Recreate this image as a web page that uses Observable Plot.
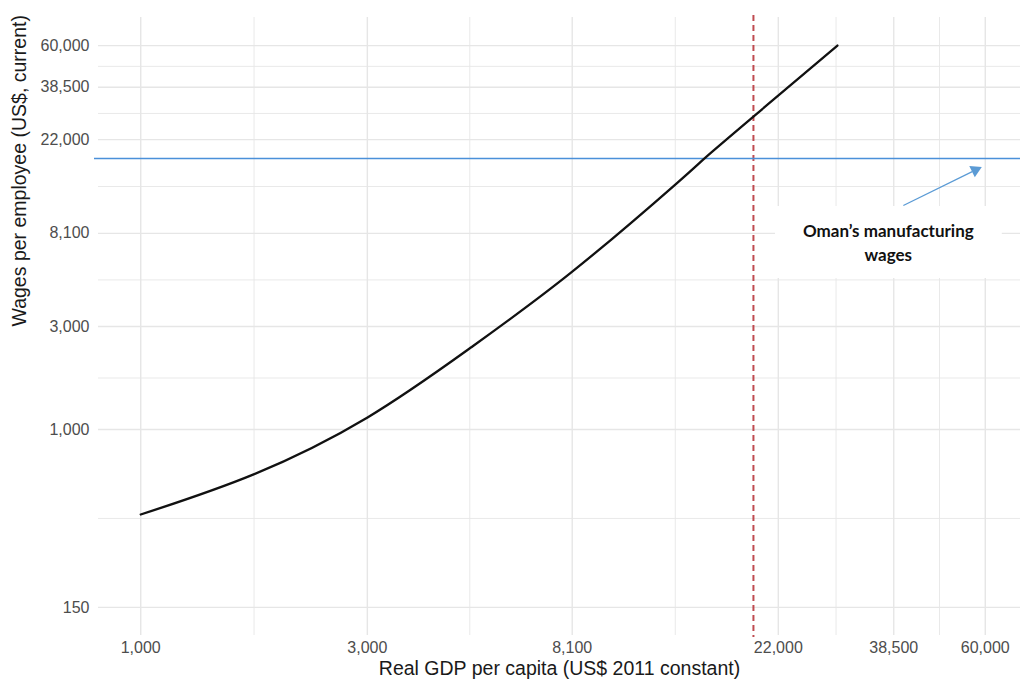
<!DOCTYPE html>
<html>
<head>
<meta charset="utf-8">
<script src="https://cdn.jsdelivr.net/npm/d3@7"></script>
<script src="https://cdn.jsdelivr.net/npm/@observablehq/plot@0.6"></script>
<style>
  html, body { margin: 0; padding: 0; background: #ffffff; overflow: hidden; }
  svg { display: block; }
</style>
</head>
<body>
<script>
// Tick values (log axes)
const xTicks = [1000, 3000, 8100, 22000, 38500, 60000];
const yTicks = [150, 1000, 3000, 8100, 22000, 38500, 60000];

// Fitted curve
const gdp   = [1000, 1729, 3003, 4924, 8113, 13425, 15450, 19500, 29300];
const wages = [404,  620,  1138, 2373, 5400, 13783, 18180, 28140, 60000];

// Reference lines
const thresholdGDP = [19500];   // red dashed vertical
const omanWage = [18000];       // blue horizontal

// Annotation (data units)
const noteLabel = ["Oman’s manufacturing\nwages"];
const noteAt = [{x: 37500, y: 7430}];
const noteBox = [{x1: 21700, x2: 65160, y1: 5005, y2: 10790}];
const arrowShaft = [{x1: 40330, y1: 10900, x2: 56330, y2: 15660}];
const arrowHead = [{x: 57170, y: 15910}];

const xTitle = "Real GDP per capita (US$ 2011 constant)";
const yTitle = "Wages per employee (US$, current)";

const curve = gdp.map((g, i) => ({gdp: g, wage: wages[i]}));

// ggplot-like 5% expansion in log space + minor grid at geometric midpoints
const expand = (lo, hi) => {
  const a = Math.log10(lo), b = Math.log10(hi), s = (b - a) * 0.05;
  return [10 ** (a - s), 10 ** (b + s)];
};
const mids = t => t.slice(1).map((v, i) => Math.sqrt(v * t[i]));
const xMinor = mids(xTicks);
const yMinor = mids(yTicks);

const fmt = d3.format(",");
const gridColor = "#e6e6e6";
const tickColor = "#4d4d4d";

const chart = Plot.plot({
  width: 1020,
  height: 682,
  marginLeft: 98,
  marginRight: 0,
  marginTop: 17,
  marginBottom: 47,
  style: {fontFamily: "'Liberation Sans', Arial, Helvetica, sans-serif", background: "#ffffff"},
  x: {type: "log", domain: expand(1000, 60000), range: [98, 1027], axis: null},
  y: {type: "log", domain: expand(150, 60000), axis: null},
  marks: [
    Plot.gridX(xMinor, {stroke: gridColor, strokeOpacity: 1, strokeWidth: 0.9}),
    Plot.gridY(yMinor, {stroke: gridColor, strokeOpacity: 1, strokeWidth: 0.9}),
    Plot.gridX(xTicks, {stroke: gridColor, strokeOpacity: 1, strokeWidth: 1.4}),
    Plot.gridY(yTicks, {stroke: gridColor, strokeOpacity: 1, strokeWidth: 1.4}),
    Plot.text(xTicks, {x: d => d, frameAnchor: "bottom", dy: 17, text: fmt, fontSize: 16, fill: tickColor}),
    Plot.text(yTicks, {y: d => d, frameAnchor: "left", dx: -9, textAnchor: "end", text: fmt, fontSize: 16, fill: tickColor}),
    Plot.ruleX(thresholdGDP, {stroke: "#b8373d", strokeOpacity: 0.9, strokeWidth: 2, strokeDasharray: "6,4", insetTop: -2, insetBottom: -2}),
    Plot.ruleY(omanWage, {stroke: "#4a90d9", strokeWidth: 1.3, insetLeft: -4}),
    Plot.line(curve, {x: "gdp", y: "wage", stroke: "#111111", strokeWidth: 2.3, curve: "natural"}),
    Plot.rect(noteBox, {x1: "x1", x2: "x2", y1: "y1", y2: "y2", fill: "#ffffff"}),
    Plot.text(noteLabel, {x: () => noteAt[0].x, y: () => noteAt[0].y, text: d => d, fontSize: 17, fontWeight: "bold", fill: "#111111", lineHeight: 1.42, fontFamily: "Lato, 'Open Sans', sans-serif"}),
    Plot.link(arrowShaft, {x1: "x1", y1: "y1", x2: "x2", y2: "y2", stroke: "#5b9bd5", strokeWidth: 1.3}),
    Plot.dot(arrowHead, {x: "x", y: "y", symbol: "triangle2", r: 6, fill: "#5b9bd5", stroke: "none", rotate: 64}),
    Plot.text([xTitle], {frameAnchor: "bottom", dy: 39, fontSize: 19.5, fill: "#1a1a1a"}),
    Plot.text([yTitle], {frameAnchor: "left", dx: -79, rotate: -90, fontSize: 19.5, fill: "#1a1a1a"})
  ]
});
document.body.appendChild(chart);
</script>
</body>
</html>
